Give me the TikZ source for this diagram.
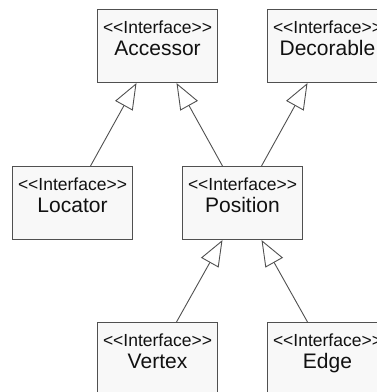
\documentclass[tikz,border=0pt]{standalone}
\usepackage{fontspec}
\setmainfont{Liberation Sans}
\usepackage{xcolor}
\usetikzlibrary{arrows.meta}
\definecolor{umlFill}{HTML}{F8F8F8}
\definecolor{umlLine}{HTML}{505050}
\definecolor{umlInk}{HTML}{111111}
\newcommand{\ifaceText}[1]{{\fontsize{17.5}{22}\selectfont <{}<Interface>{}>}\\#1}
\tikzset{
  uml diagram/.style={x=1pt, y=-1pt, text=umlInk},
  uml box/.style={draw=umlLine, fill=umlFill, line width=1pt, anchor=north west,
    minimum width=120pt, minimum height=73pt, inner xsep=0pt, inner ysep=0pt,
    align=center, font=\fontsize{21}{22}\selectfont,
    text height=46pt, text depth=27pt},
  uml inherit/.style={-{Triangle[open, length=26pt, width=20pt]}, draw=umlLine,
    line width=0.9pt}
}

\begin{document}
\begin{tikzpicture}[uml diagram]
\useasboundingbox (0,0) rectangle (377,392);
\clip (0,0) rectangle (377,392);
% interfaces
\node[uml box] (accessor) at (97,9) {\ifaceText{Accessor}};
\node[uml box] (decorable) at (267,9) {\ifaceText{Decorable}};
\node[uml box] (locator) at (12,166) {\ifaceText{Locator}};
\node[uml box] (position) at (182,166) {\ifaceText{Position}};
\node[uml box] (vertex) at (97,322) {\ifaceText{Vertex}};
\node[uml box] (edge) at (267,322) {\ifaceText{Edge}};
% generalisations
\draw[uml inherit] ([xshift=18pt]locator.north) -- ([xshift=-21pt]accessor.south);
\draw[uml inherit] ([xshift=-20pt]position.north) -- ([xshift=19pt]accessor.south);
\draw[uml inherit] ([xshift=19pt]position.north) -- ([xshift=-20pt]decorable.south);
\draw[uml inherit] ([xshift=19pt]vertex.north) -- ([xshift=-20pt]position.south);
\draw[uml inherit] ([xshift=-20pt]edge.north) -- ([xshift=19pt]position.south);
\end{tikzpicture}
\end{document}
